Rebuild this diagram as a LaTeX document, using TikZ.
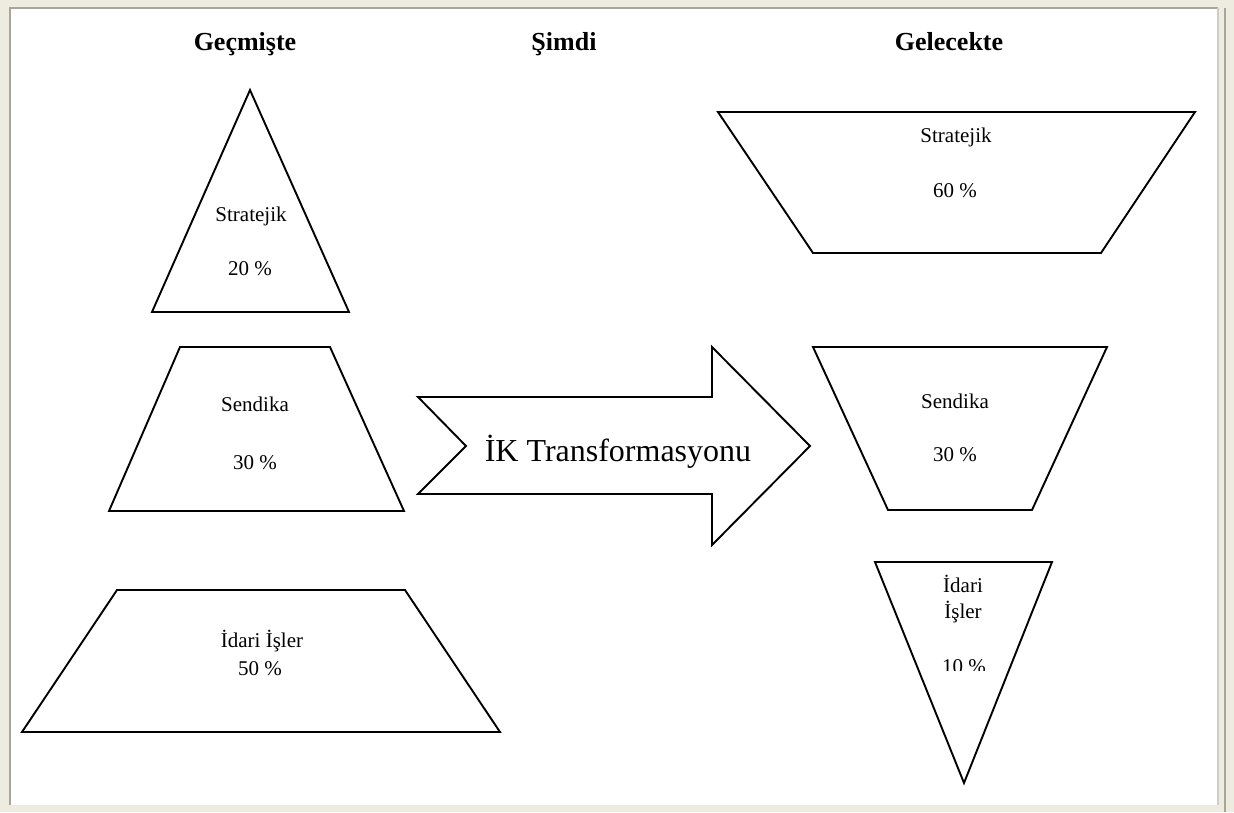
\documentclass[tikz,border=0pt]{standalone}
\usepackage{fontspec}
\setmainfont{Liberation Serif}
\definecolor{cream}{HTML}{EEEBE0}
\definecolor{framedark}{HTML}{A8A699}
\definecolor{framelight}{HTML}{CFCCC0}
\tikzset{
  outline/.style={draw=black, line width=1.9pt, line join=miter, fill=white},
  lbl/.style={anchor=base, inner sep=0pt, font=\fontsize{21}{25}\selectfont},
  head/.style={anchor=base, inner sep=0pt, font=\fontsize{26}{30}\selectfont\bfseries},
  big/.style={anchor=base, inner sep=0pt, font=\fontsize{32}{38}\selectfont},
}
\begin{document}
\begin{tikzpicture}[x=1pt,y=-1pt]
\useasboundingbox (0,0) rectangle (1234,812);
% frame
\fill[cream] (0,0) rectangle (1234,812);
\fill[white] (10,9) rectangle (1217,805);
\draw[framedark, line width=2pt] (10,805) -- (10,8) -- (1218,8);
\draw[framelight, line width=1.5pt] (1218,8) -- (1218,805);
\draw[framedark, line width=2pt] (1225,8) -- (1225,812);
% headers
\node[head] (h1) at (245,50) {Geçmişte};
\node[head] (h2) at (564,50) {Şimdi};
\node[head] (h3) at (949,50) {Gelecekte};
% past
\draw[outline] (250,90) -- (349,312) -- (152,312) -- cycle;
\node[lbl] (p1a) at (251,221) {Stratejik};
\node[lbl] (p1b) at (250,275) {20 \%};
\draw[outline] (180,347) -- (330,347) -- (404,511) -- (109,511) -- cycle;
\node[lbl] (p2a) at (255,411) {Sendika};
\node[lbl] (p2b) at (255,469) {30 \%};
\draw[outline] (117,590) -- (405,590) -- (500,732) -- (22,732) -- cycle;
\node[lbl] (p3a) at (262,647) {İdari İşler};
\node[lbl] (p3b) at (260,675) {50 \%};
% arrow
\draw[outline] (418,397) -- (712,397) -- (712,347) -- (810,446) -- (712,545) -- (712,494) -- (418,494) -- (466,446) -- cycle;
\node[big] (arr) at (618,461) {İK Transformasyonu};
% future
\draw[outline] (718,112) -- (1195,112) -- (1101,253) -- (813,253) -- cycle;
\node[lbl] (f1a) at (956,142) {Stratejik};
\node[lbl] (f1b) at (955,197) {60 \%};
\draw[outline] (813,347) -- (1107,347) -- (1032,510) -- (888,510) -- cycle;
\node[lbl] (f2a) at (955,408) {Sendika};
\node[lbl] (f2b) at (955,461) {30 \%};
\draw[outline] (875,562) -- (1052,562) -- (964,783) -- cycle;
\node[lbl] (f3a) at (963,592) {İdari};
\node[lbl] (f3b) at (963,618) {İşler};
\begin{scope}
\clip (900,640) rectangle (1030,670.5);
\node[lbl] (f3c) at (964,673) {10 \%};
\end{scope}
\end{tikzpicture}
\end{document}
